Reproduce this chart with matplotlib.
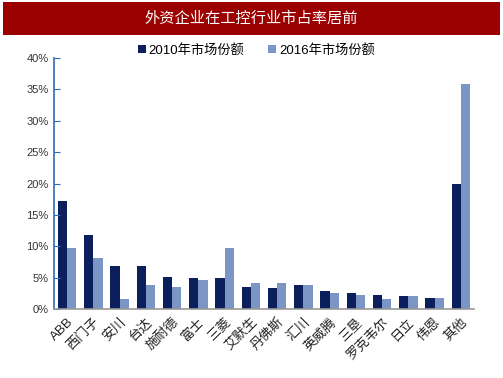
import matplotlib
matplotlib.use("Agg")
import matplotlib.pyplot as plt
import numpy as np
from matplotlib.patches import Rectangle
from matplotlib.ticker import FuncFormatter

plt.rcParams['font.family'] = ['Liberation Sans', 'Noto Sans CJK SC', 'DejaVu Sans']

title = "外资企业在工控行业市占率居前"
categories = ["ABB", "西门子", "安川", "台达", "施耐德", "富士", "三菱", "艾默生", "丹佛斯",
              "汇川", "英威腾", "三垦", "罗克韦尔", "日立", "伟恩", "其他"]
share_2010 = [17.2, 11.8, 6.8, 6.8, 5.1, 4.9, 4.9, 3.5, 3.3, 3.8, 2.9, 2.5, 2.3, 2.1, 1.8, 20.0]
share_2016 = [9.8, 8.2, 1.6, 3.8, 3.5, 4.7, 9.8, 4.2, 4.1, 3.9, 2.5, 2.2, 1.6, 2.1, 1.8, 35.8]
series_names = ["2010年市场份额", "2016年市场份额"]
yticks = [0, 5, 10, 15, 20, 25, 30, 35, 40]

c1 = "#0a1f5c"
c2 = "#7b96c4"

fig = plt.figure(figsize=(5.03, 3.78), dpi=100)
fig.patch.set_facecolor("white")

# title bar
fig.patches.append(Rectangle((3/503, 1-35/378), 497/503, 33/378, transform=fig.transFigure,
                             facecolor="#9b0000", edgecolor="none", zorder=0))
fig.text(0.5, 1-18.5/378, title, color="white", ha="center", va="center", fontsize=11,
         family=['Noto Sans CJK SC', 'DejaVu Sans'])

ax = fig.add_axes([54/503, 1-309/378, 420/503, 251/378])
x = np.arange(len(categories))
w = 0.35
b1 = ax.bar(x - w/2, share_2010, w, color=c1, label=series_names[0])
b2 = ax.bar(x + w/2, share_2016, w, color=c2, label=series_names[1])

ax.set_xlim(-0.5, len(categories) - 0.5)
ax.set_ylim(0, 40)
ax.set_yticks(yticks)
ax.yaxis.set_major_formatter(FuncFormatter(lambda v, p: f"{int(v)}%"))
ax.tick_params(axis='y', direction='in', length=4, color="#2e6db4", labelsize=8, labelcolor="#333333", pad=4)
ax.set_xticks(x)
ax.set_xticklabels(categories, rotation=45, ha="right", rotation_mode="anchor", fontsize=9.5,
                   color="#222222")
ax.tick_params(axis='x', length=0, pad=5)

for s in ["top", "right"]:
    ax.spines[s].set_visible(False)
ax.spines["left"].set_color("#2e6db4")
ax.spines["left"].set_linewidth(1.2)
ax.spines["bottom"].set_color("#999999")
ax.spines["bottom"].set_linewidth(1.2)

fig.legend(handles=[b1, b2], labels=series_names, loc="center", bbox_to_anchor=(0.51, 1-50/378),
           ncol=2, frameon=False, fontsize=9.5, handlelength=0.6, handleheight=0.6,
           handletextpad=0.2, columnspacing=1.8)

fig.savefig("out.png", dpi=100)
